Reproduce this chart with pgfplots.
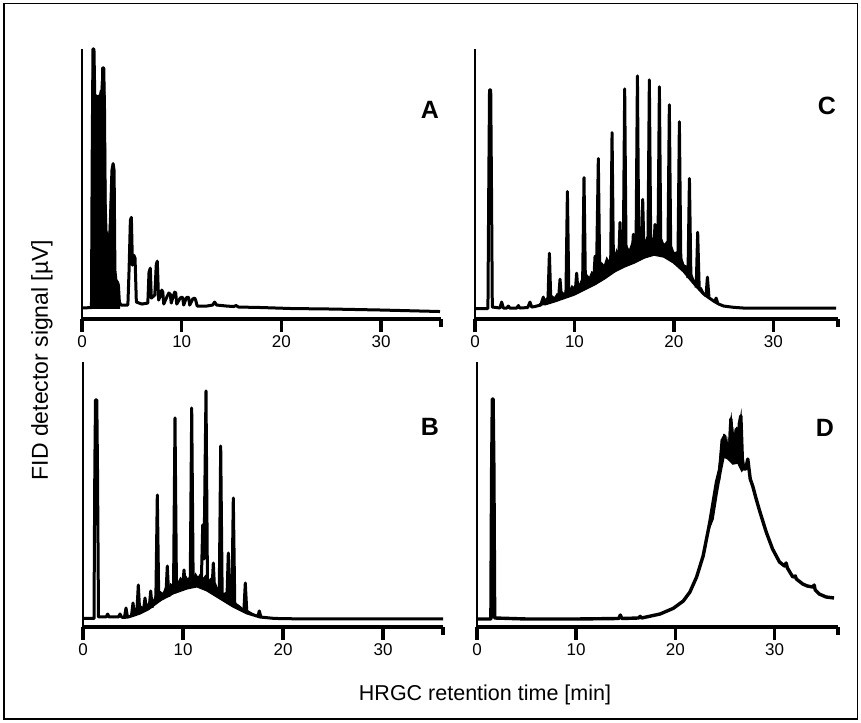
\documentclass[border=0pt]{standalone}
\usepackage{fontspec}
\setmainfont{Liberation Sans}
\usepackage{pgfplots}
\pgfplotsset{compat=1.18}
\pgfplotsset{
  chrom/.style={
    scale only axis, anchor=south west, clip=false,
    axis x line*=bottom, axis y line*=left,
    ytick=\empty, xtick={0,10,20,30},
    tick align=outside, major tick length=13pt,
    x axis line style={line width=3.6pt},
    y axis line style={line width=2.2pt},
    every tick/.style={black, line width=3.4pt},
    tick label style={font=\fontsize{17}{17}\selectfont},
    /pgf/number format/assume math mode=true,
    extra x tick labels={}, extra x tick style={major tick length=8pt},
  },
  trace/.style={black, line width=3pt, line join=round, no markers},
  spike/.style={black, line width=3pt, line join=round, no markers, unbounded coords=jump},
  band/.style={black, fill=black, line width=1.5pt, no markers},
}
\begin{document}
\begin{tikzpicture}
\path[use as bounding box] (0,0) rectangle (861pt,722pt);
\draw[line width=1.5pt] (4pt,3pt) rectangle (857.5pt,718.5pt);

% ---------------- A
\begin{axis}[chrom, at={(82pt,403pt)}, width=359pt, height=270pt,
  xmin=0, xmax=36, ymin=-9, ymax=262, extra x ticks={36}]
\addplot[band] coordinates {
(1.0,2) (1.04,200) (1.1,262) (1.2,262) (1.28,215) (1.9,215) (2.05,243) (2.2,243) (2.3,200) (2.4,80) (2.7,65) (2.95,130) (3.1,147) (3.22,120) (3.32,35) (3.6,25) (3.75,5) (3.75,2)
} --cycle;
\addplot[trace] coordinates {
(0,2) (0.95,2.5) (1.02,150) (1.1,262) (1.2,262) (1.28,215) (1.33,30) (1.38,15) (1.45,215) (1.5,205) (1.55,30) (1.62,210) (1.7,215) (1.78,60) (1.85,215) (1.92,220) (2.0,200) (2.08,243) (2.18,243) (2.26,200) (2.32,110) (2.4,80) (2.5,75) (2.6,66) (2.68,20) (2.75,65) (2.85,90) (3.0,140) (3.12,147) (3.22,140) (3.3,40) (3.4,30) (3.55,28) (3.65,25) (3.75,8) (3.9,5) (4.6,5) (4.72,40) (4.85,90) (4.95,93) (5.06,45) (5.2,55) (5.32,52) (5.45,8) (6.0,6) (6.6,7) (6.72,38) (6.85,42) (6.95,12) (7.3,15) (7.45,46) (7.55,49) (7.68,10) (7.9,15) (8.0,20) (8.1,18) (8.2,6) (8.55,14) (8.7,17) (8.85,16) (8.95,7) (9.15,14) (9.3,18) (9.4,17) (9.5,6) (9.85,12) (10.0,13) (10.1,12) (10.2,5) (10.45,12) (10.6,13) (10.7,12) (10.8,5) (11.1,11) (11.3,12) (11.4,10) (11.55,4) (12.5,4) (13.1,5) (13.3,8) (13.5,5) (14.5,4) (15.2,3.5) (15.45,4.5) (15.7,3) (18,2.5) (21,1.5) (25,1) (30,0) (35.9,-1.5)
};
\end{axis}

% ---------------- C
\begin{axis}[chrom, at={(475pt,403pt)}, width=363pt, height=270pt,
  xmin=0, xmax=36.5, ymin=-9, ymax=262, extra x ticks={36.5}]
\addplot[trace] coordinates {
(0,1.5) (1.3,1.5) (1.38,120) (1.46,221) (1.58,221) (1.66,120) (1.74,3) (2.5,2) (2.68,8) (2.85,2) (3.2,2) (3.35,4) (3.5,2) (4.2,2) (4.36,4.5) (4.5,2) (5.3,2.5) (5.53,8) (5.7,3) (6.0,3.5) (6.6,5) (6.87,13) (7.0,6) (8,9) (9,12.5) (10,16) (11,21) (12,26) (13,32) (14,39) (15,44) (16,48) (17,53) (18,56) (19,54) (20,48) (21,39) (22,27) (23,16) (24,9) (24.5,6) (25,4) (26,2.7) (27,2) (36.3,2)
};
\addplot[band] coordinates {
(6.5,6) (7,10) (7.25,12) (7.5,9) (7.75,14) (8,12) (8.25,16) (8.5,13) (8.75,18) (9,16) (9.25,21) (9.5,19) (9.75,24) (10,22) (10.25,28) (10.5,25) (10.75,31) (11,28) (11.25,35) (11.5,32) (11.75,38) (12,35) (12.25,43) (12.5,40) (12.75,47) (13,44) (13.25,52) (13.5,48) (13.75,55) (14,52) (14.25,60) (14.5,55) (14.75,62) (15,57) (15.25,64) (15.5,59) (15.75,66) (16,61) (16.25,68) (16.5,63) (16.75,70) (17,65) (17.25,72) (17.5,67) (17.75,73) (18,68) (18.25,72) (18.5,66) (18.75,71) (19,65) (19.25,68) (19.5,61) (19.75,64) (20,57) (20.25,58) (20.5,50) (20.75,52) (21,45) (21.25,44) (21.5,37) (21.75,36) (22,30) (22.25,29) (22.5,23) (22.75,22) (23,17) (23.5,12) (24,9)
(23,16) (22,27) (21,39) (20,48) (19,54) (18,56) (17,53) (16,48) (15,44) (14,39) (13,32) (12,26) (11,21) (10,16) (9,12.5) (8,9) (7,6) (6.5,4.5)
} --cycle;
\addplot[spike] coordinates {
(7.33,7.4) (7.48,57) (7.63,7.4) (7.63,nan)
(8.4,11) (8.55,31) (8.7,11) (8.7,nan)
(9.14,13.5) (9.29,119) (9.44,13.5) (9.44,nan)
(10.07,17) (10.22,37) (10.37,17) (10.37,nan)
(10.81,21) (10.96,133) (11.11,21) (11.11,nan)
(11.92,26) (12.07,54) (12.2,27) (12.4,152) (12.55,28.4) (12.55,nan)
(13.63,37) (13.78,178) (13.93,37.5) (13.93,nan)
(14.43,42) (14.58,88) (14.73,42) (14.73,nan)
(14.9,44) (15.05,222) (15.2,44) (15.2,nan)
(15.77,48) (15.92,76) (16.07,48) (16.07,nan)
(16.18,49.6) (16.33,235) (16.48,49.6) (16.48,nan)
(16.71,52.3) (16.86,111) (17.01,52.3) (17.01,nan)
(17.38,54) (17.53,231) (17.68,54) (17.68,nan)
(17.95,56) (18.1,86) (18.25,56) (18.25,nan)
(18.39,55.5) (18.54,224) (18.69,55.5) (18.69,nan)
(19.39,51) (19.54,206) (19.69,51) (19.69,nan)
(20.4,44) (20.55,189) (20.7,44) (20.7,nan)
(21.41,32) (21.56,132) (21.71,32) (21.71,nan)
(22.24,22.5) (22.39,78) (22.54,22.5) (22.54,nan)
(23.22,13.4) (23.37,33) (23.52,13.4) (23.52,nan)
(24.09,7.5) (24.24,12) (24.39,7.5)
};
\end{axis}

% ---------------- B
\begin{axis}[chrom, at={(83pt,95pt)}, width=360pt, height=265pt,
  xmin=0, xmax=36, ymin=-8, ymax=257, extra x ticks={36}]
\addplot[trace] coordinates {
(0,0.5) (1.1,0.5) (1.18,150) (1.25,219) (1.38,219) (1.45,150) (1.55,2) (2.3,2) (2.47,5) (2.6,2) (3.55,2) (3.7,5) (3.85,2) (4,1.5) (4.5,2) (5,3.5) (5.7,6) (6.5,10) (7.7,19) (9,26) (10.4,31) (11.4,33) (12.4,29) (13.7,21) (15,13) (16.4,6) (17.7,2) (19,0.7) (20,0.3) (25,0) (36,0)
};
\addplot[band] coordinates {
(5,7) (5.25,10) (5.5,8) (5.75,13) (6,11) (6.25,16) (6.5,14) (6.75,19) (7,17) (7.25,23) (7.5,21) (7.75,27) (8,25) (8.25,31) (8.5,29) (8.75,35) (9,33) (9.25,39) (9.5,36) (9.75,41) (10,38) (10.25,43) (10.5,39) (10.75,44) (11,40) (11.25,45) (11.5,41) (11.75,45) (12,40) (12.25,43) (12.5,37) (12.75,40) (13,33) (13.25,35) (13.5,29) (13.75,30) (14,25) (14.25,26) (14.5,21) (14.75,21) (15,17) (15.5,14) (16,10) (16.5,8) (17,5) (17.5,3)
(17.5,2.5) (16.4,6) (15,13) (13.7,21) (12.4,29) (11.4,33) (10.4,31) (9,26) (7.7,19) (6.5,10) (5.7,6) (5,3.5)
} --cycle;
\addplot[spike] coordinates {
(4.15,2) (4.3,11) (4.45,2) (4.45,nan)
(4.85,3.5) (5.0,16) (5.15,3.5) (5.15,nan)
(5.38,5.5) (5.53,34) (5.68,5.5) (5.68,nan)
(6.05,8.5) (6.2,21) (6.35,8.5) (6.35,nan)
(6.62,11) (6.77,28) (6.92,11) (6.92,nan)
(7.28,17) (7.43,124) (7.58,17) (7.58,nan)
(8.28,22) (8.43,53) (8.58,22) (8.58,nan)
(9.05,27) (9.2,201) (9.35,27) (9.35,nan)
(9.95,30) (10.1,49) (10.25,30) (10.25,nan)
(10.72,32) (10.87,211) (11.02,32) (11.02,nan)
(11.82,31) (11.97,94) (12.1,60) (12.3,228) (12.45,30) (12.45,nan)
(12.88,25) (13.03,56) (13.18,25) (13.18,nan)
(13.62,21) (13.77,173) (13.92,21) (13.92,nan)
(14.38,16) (14.53,66) (14.68,16) (14.68,nan)
(14.88,13) (15.03,121) (15.18,13) (15.18,nan)
(16.08,7) (16.23,36) (16.38,7) (16.38,nan)
(17.48,2.5) (17.63,8) (17.78,2.5)
};
\end{axis}

% ---------------- D
\begin{axis}[chrom, at={(477pt,95pt)}, width=361pt, height=265pt,
  xmin=0, xmax=36.4, ymin=-8, ymax=257, extra x ticks={36.4}]
\addplot[trace, line width=3.4pt] coordinates {
(0,0) (1.4,0) (1.48,150) (1.55,220) (1.62,220) (1.7,150) (1.78,1) (5,0) (10,0) (14.3,0.5) (14.45,4) (14.6,0.5) (16.3,1) (16.45,2.7) (16.6,1) (18.46,5) (19.8,10.7) (20.8,18) (21.47,27) (22.14,42) (22.8,63) (23.48,97) (24.15,137) (24.48,150) (24.8,180) (24.98,183) (25.15,165) (25.3,175) (25.45,160) (25.6,200) (25.75,170) (25.85,185) (26.0,175) (26.15,190) (26.3,160) (26.45,195) (26.6,203) (26.75,160) (26.9,150) (27.1,150) (27.3,160) (27.55,140) (27.8,133) (28.15,120) (28.5,108) (29.16,87) (29.8,70) (30.5,57) (31.0,53) (31.17,56) (31.3,51) (31.84,42) (32.1,43) (32.2,40) (32.84,35) (33.3,33) (33.85,32) (34.0,34) (34.1,29) (34.5,25) (35.2,22) (36.0,21)
};
\addplot[band] coordinates {
(24.4,150) (24.6,175) (24.75,168) (24.9,185) (25.05,170) (25.2,178) (25.35,165) (25.5,195) (25.62,201) (25.75,172) (25.9,186) (26.05,175) (26.2,192) (26.35,168) (26.5,198) (26.62,204) (26.75,165) (26.85,150)
(26.7,148) (26.3,156) (25.8,155) (25.3,160) (24.9,162) (24.5,142)
} --cycle;
\addplot[band] coordinates {
(23.2,85) (23.7,108) (24.1,128) (24.4,150) (24.5,142) (24.2,125) (23.8,100)
} --cycle;
\end{axis}

% panel letters
\node[font=\fontsize{25}{25}\selectfont\bfseries] at (430pt,612pt) {A};
\node[font=\fontsize{25}{25}\selectfont\bfseries] at (430pt,295pt) {B};
\node[font=\fontsize{25}{25}\selectfont\bfseries] at (827pt,616pt) {C};
\node[font=\fontsize{25}{25}\selectfont\bfseries] at (825pt,294pt) {D};

% axis titles
\node[font=\fontsize{21.5}{21.5}\selectfont] at (485pt,27pt) {HRGC retention time [min]};
\node[font=\fontsize{23}{23}\selectfont, rotate=90] at (42pt,362pt) {FID detector signal [µV]};
\end{tikzpicture}
\end{document}
